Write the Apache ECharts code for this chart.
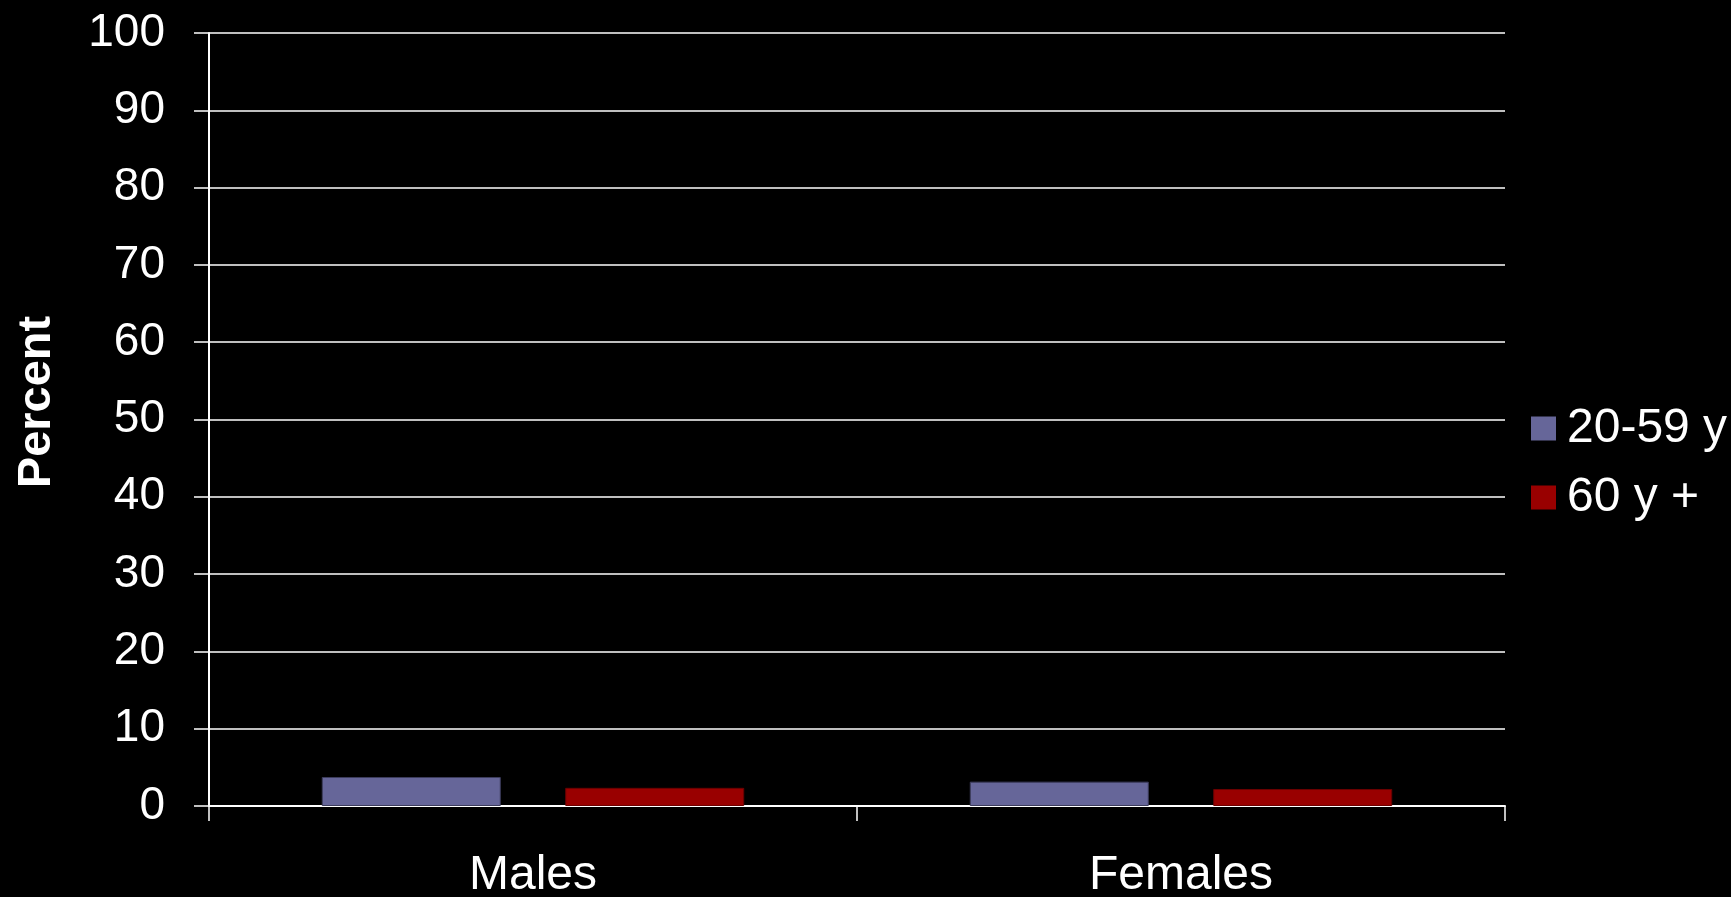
<!DOCTYPE html>
<html>
<head>
<meta charset="utf-8">
<script src="https://cdn.jsdelivr.net/npm/echarts@6/dist/echarts.min.js"></script>
<style>
  html, body { margin: 0; padding: 0; background: #000; }
  #chart { width: 1731px; height: 897px; }
</style>
</head>
<body>
<div id="chart"></div>
<script>
// Categories, series and axis ticks
const categories = ['Males', 'Females'];
const seriesNames = ['20-59 y', '60 y +'];
const young = [3.75, 3.15];
const old = [2.35, 2.2];
const yTicks = { min: 0, max: 100, interval: 10 };
const axisTitle = 'Percent';

const FONT = '"Liberation Sans", Arial, sans-serif';

const chart = echarts.init(document.getElementById('chart'), null, { renderer: 'canvas' });

chart.setOption({
  backgroundColor: '#000000',
  animation: false,
  textStyle: { fontFamily: FONT },
  grid: { left: 209, right: 226, top: 33, bottom: 91, containLabel: false, outerBoundsMode: 'none' },
  legend: {
    orient: 'vertical',
    left: 1531,
    top: 404,
    padding: 0,
    itemWidth: 25,
    itemHeight: 24,
    itemGap: 20,
    icon: 'rect',
    itemStyle: { borderWidth: 0 },
    textStyle: { color: '#ffffff', fontSize: 48, fontFamily: FONT, lineHeight: 49, padding: [0, 0, 0, 6] },
    data: seriesNames
  },
  graphic: [{
    type: 'text',
    x: 37,
    y: 402,
    rotation: Math.PI / 2,
    style: {
      text: axisTitle,
      fill: '#ffffff',
      font: 'bold 47px ' + FONT,
      textAlign: 'center',
      textVerticalAlign: 'middle'
    }
  }],
  xAxis: {
    type: 'category',
    data: categories,
    axisLine: { show: true, lineStyle: { color: '#ffffff', width: 2 } },
    axisTick: { show: true, length: 15, lineStyle: { color: '#ffffff', width: 1.5 } },
    axisLabel: { color: '#ffffff', fontSize: 48, margin: 46, fontFamily: FONT },
    splitLine: { show: false }
  },
  yAxis: {
    type: 'value',
    min: yTicks.min,
    max: yTicks.max,
    interval: yTicks.interval,
    axisLine: { show: true, lineStyle: { color: '#ffffff', width: 2 } },
    axisTick: { show: true, length: 15, lineStyle: { color: '#ffffff', width: 1.5 } },
    axisLabel: { color: '#ffffff', fontSize: 46, margin: 44, fontFamily: FONT },
    splitLine: { show: true, lineStyle: { color: '#ffffff', width: 1.5 } }
  },
  series: [
    {
      name: seriesNames[0],
      type: 'bar',
      data: young,
      barWidth: 179,
      barGap: '36%',
      itemStyle: { color: '#666699', borderColor: '#3c3c5c', borderWidth: 1 }
    },
    {
      name: seriesNames[1],
      type: 'bar',
      data: old,
      barWidth: 179,
      itemStyle: { color: '#990000', borderColor: '#6a0000', borderWidth: 1 }
    }
  ]
});
</script>
</body>
</html>
